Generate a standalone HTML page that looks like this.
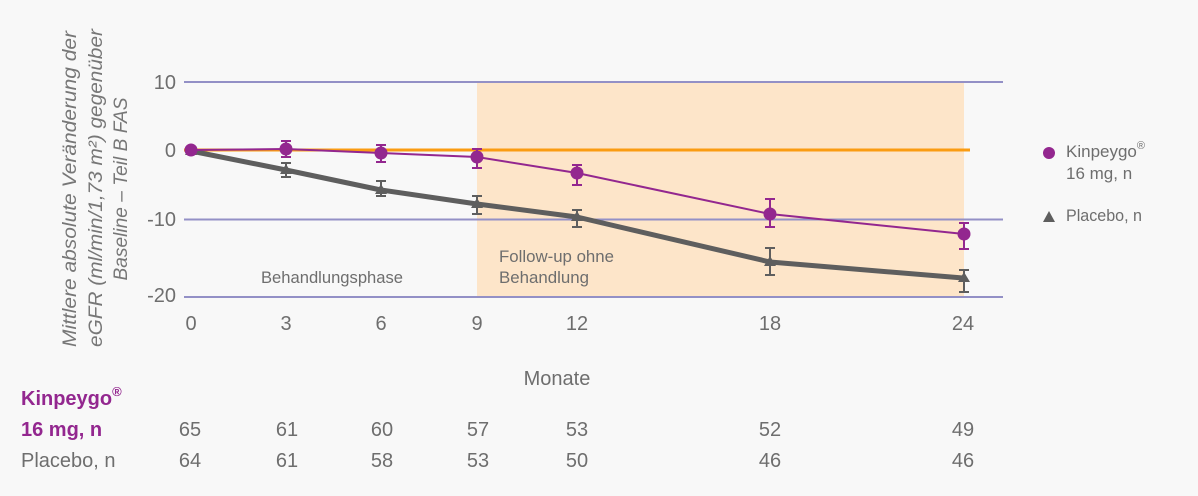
<!DOCTYPE html>
<html><head><meta charset="utf-8">
<style>
html,body{margin:0;padding:0;background:#f8f8f8;}
svg{display:block;}
text{font-family:"Liberation Sans",sans-serif;}
</style></head>
<body>
<svg width="1198" height="496" viewBox="0 0 1198 496" xmlns="http://www.w3.org/2000/svg">
<rect x="0" y="0" width="1198" height="496" fill="#f8f8f8"/>
<!-- shaded region -->
<rect x="477" y="82" width="487" height="215" fill="#fde5c9"/>
<!-- grid lines -->
<g stroke="#9390c6" stroke-width="2">
<line x1="184" y1="82" x2="1003" y2="82"/>
<line x1="184" y1="219.5" x2="1003" y2="219.5"/>
<line x1="184" y1="297" x2="1003" y2="297"/>
</g>
<line x1="184" y1="150" x2="970" y2="150" stroke="#fa9c12" stroke-width="3"/>
<!-- y tick labels -->
<g font-size="20" fill="#6e6e6e" text-anchor="end">
<text x="176" y="89">10</text>
<text x="176" y="157">0</text>
<text x="176" y="226">-10</text>
<text x="176" y="302">-20</text>
</g>
<!-- x tick labels -->
<g font-size="20" fill="#6e6e6e" text-anchor="middle">
<text x="191" y="330">0</text>
<text x="286" y="330">3</text>
<text x="381" y="330">6</text>
<text x="477" y="330">9</text>
<text x="577" y="330">12</text>
<text x="770" y="330">18</text>
<text x="963" y="330">24</text>
</g>
<!-- phase labels -->
<g font-size="17" fill="#6e6e6e">
<text x="261" y="283" textLength="142" lengthAdjust="spacingAndGlyphs">Behandlungsphase</text>
<text x="499" y="262" textLength="115" lengthAdjust="spacingAndGlyphs">Follow-up ohne</text>
<text x="499" y="283" textLength="90" lengthAdjust="spacingAndGlyphs">Behandlung</text>
</g>
<!-- y axis title -->
<g font-size="19" font-style="italic" fill="#777777" text-anchor="middle">
<text transform="translate(76,189) rotate(-90)" textLength="316" lengthAdjust="spacingAndGlyphs">Mittlere absolute Veränderung der</text>
<text transform="translate(102,188) rotate(-90)" textLength="318" lengthAdjust="spacingAndGlyphs">eGFR (ml/min/1,73 m²) gegenüber</text>
<text transform="translate(127,189) rotate(-90)" textLength="183" lengthAdjust="spacingAndGlyphs">Baseline – Teil B FAS</text>
</g>
<!-- placebo series -->
<polyline points="191,151 286,170 381,190 477,204 577,217 770,262 963,278" fill="none" stroke="#5e5e5e" stroke-width="5" stroke-linejoin="round"/>
<g stroke="#5e5e5e" stroke-width="2">
<line x1="286" y1="163" x2="286" y2="177"/><line x1="281" y1="163" x2="291" y2="163"/><line x1="281" y1="177" x2="291" y2="177"/>
<line x1="381" y1="181" x2="381" y2="196"/><line x1="376" y1="181" x2="386" y2="181"/><line x1="376" y1="196" x2="386" y2="196"/>
<line x1="477" y1="196" x2="477" y2="214"/><line x1="472" y1="196" x2="482" y2="196"/><line x1="472" y1="214" x2="482" y2="214"/>
<line x1="577" y1="210" x2="577" y2="227"/><line x1="572" y1="210" x2="582" y2="210"/><line x1="572" y1="227" x2="582" y2="227"/>
<line x1="770" y1="248" x2="770" y2="275"/><line x1="765" y1="248" x2="775" y2="248"/><line x1="765" y1="275" x2="775" y2="275"/>
<line x1="964" y1="270" x2="964" y2="292"/><line x1="959" y1="270" x2="969" y2="270"/><line x1="959" y1="292" x2="969" y2="292"/>
</g>
<g fill="#5e5e5e">
<polygon points="191,145 197,155 185,155"/>
<polygon points="286,164 292,174 280,174"/>
<polygon points="381,184 387,194 375,194"/>
<polygon points="477,198 483,208 471,208"/>
<polygon points="577,211 583,221 571,221"/>
<polygon points="770,256 776,266 764,266"/>
<polygon points="964,272 970,282 958,282"/>
</g>
<!-- kinpeygo series -->
<polyline points="191,150 286,149 381,153 477,157 577,173 770,214 964,234" fill="none" stroke="#93278f" stroke-width="2"/>
<g stroke="#93278f" stroke-width="2">
<line x1="286" y1="141" x2="286" y2="157"/><line x1="281" y1="141" x2="291" y2="141"/><line x1="281" y1="157" x2="291" y2="157"/>
<line x1="381" y1="145" x2="381" y2="162"/><line x1="376" y1="145" x2="386" y2="145"/><line x1="376" y1="162" x2="386" y2="162"/>
<line x1="477" y1="149" x2="477" y2="168"/><line x1="472" y1="149" x2="482" y2="149"/><line x1="472" y1="168" x2="482" y2="168"/>
<line x1="577" y1="165" x2="577" y2="185"/><line x1="572" y1="165" x2="582" y2="165"/><line x1="572" y1="185" x2="582" y2="185"/>
<line x1="770" y1="199" x2="770" y2="227"/><line x1="765" y1="199" x2="775" y2="199"/><line x1="765" y1="227" x2="775" y2="227"/>
<line x1="964" y1="223" x2="964" y2="249"/><line x1="959" y1="223" x2="969" y2="223"/><line x1="959" y1="249" x2="969" y2="249"/>
</g>
<g fill="#93278f">
<circle cx="191" cy="150" r="6.5"/>
<circle cx="286" cy="149" r="6.5"/>
<circle cx="381" cy="153" r="6.5"/>
<circle cx="477" cy="157" r="6.5"/>
<circle cx="577" cy="173" r="6.5"/>
<circle cx="770" cy="214" r="6.5"/>
<circle cx="964" cy="234" r="6.5"/>
</g>
<!-- legend -->
<circle cx="1049" cy="153" r="6" fill="#93278f"/>
<polygon points="1049,211 1055,222 1043,222" fill="#5e5e5e"/>
<g font-size="17" fill="#6e6e6e">
<text x="1066" y="157">Kinpeygo<tspan font-size="11" dy="-8">®</tspan></text>
<text x="1066" y="179">16 mg, n</text>
<text x="1066" y="221" textLength="76" lengthAdjust="spacingAndGlyphs">Placebo, n</text>
</g>
<!-- x axis title -->
<text x="557" y="385" font-size="20" fill="#6e6e6e" text-anchor="middle">Monate</text>
<!-- n table -->
<g font-size="20" font-weight="bold" fill="#93278f">
<text x="21" y="405">Kinpeygo<tspan font-size="13" dy="-9">®</tspan></text>
<text x="21" y="436">16 mg, n</text>
</g>
<text x="21" y="467" font-size="20" fill="#6e6e6e">Placebo, n</text>
<g font-size="20" fill="#6e6e6e" text-anchor="middle">
<text x="190" y="436">65</text>
<text x="287" y="436">61</text>
<text x="382" y="436">60</text>
<text x="478" y="436">57</text>
<text x="577" y="436">53</text>
<text x="770" y="436">52</text>
<text x="963" y="436">49</text>
<text x="190" y="467">64</text>
<text x="287" y="467">61</text>
<text x="382" y="467">58</text>
<text x="478" y="467">53</text>
<text x="577" y="467">50</text>
<text x="770" y="467">46</text>
<text x="963" y="467">46</text>
</g>
</svg>
</body></html>
